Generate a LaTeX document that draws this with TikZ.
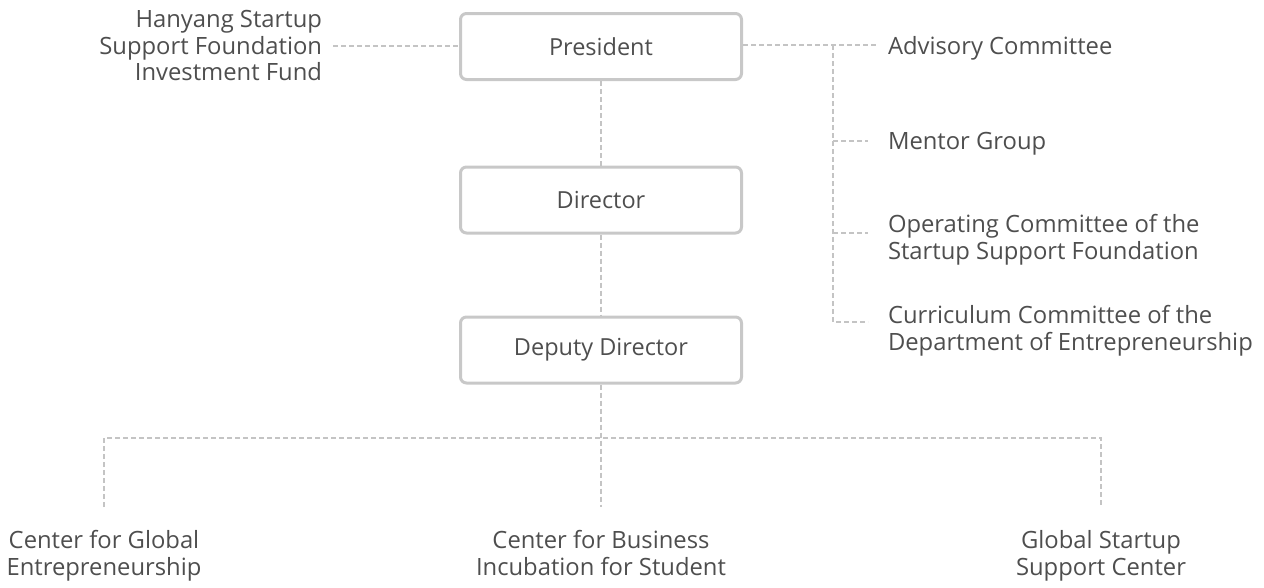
\documentclass[tikz,border=0pt]{standalone}
\usepackage{fontspec}
\setmainfont{Open Sans}
\definecolor{boxgray}{HTML}{C8C8C8}
\definecolor{linegray}{HTML}{C4C4C4}
\definecolor{textgray}{HTML}{4E4E4E}
\begin{document}
\begin{tikzpicture}[x=1pt,y=-1pt,
	office/.style={draw=boxgray,line width=3pt,rounded corners=6pt,minimum width=281pt,minimum height=66pt,text=textgray,font=\fontsize{23.5}{26}\selectfont},
	lbl/.style={text=textgray,font=\fontsize{23.8}{26.5}\selectfont,inner sep=0pt},
	link/.style={draw=linegray,line width=1.2pt,dash pattern=on 5pt off 3pt}]

		\useasboundingbox (0,0) rectangle (1264,587);

		\node[office] (P) at (601, 46.5) {President};
		\node[office] (D) at (601, 200) {Director};
		\node[office] (DD) at (601, 350) {Deputy Director};

		\node[lbl,align=right,anchor=north east,outer xsep=11pt] (fund) at (333, 10.5) {Hanyang Startup\\Support Foundation\\Investment Fund};

		\node[lbl,align=left,anchor=north west,outer xsep=11pt] (adv) at (877, 36) {Advisory Committee};
		\node[lbl,align=left,anchor=north west,outer xsep=20pt] (ment) at (868, 132) {Mentor Group};
		\node[lbl,align=left,anchor=north west,outer xsep=20pt] (oper) at (868, 214.5) {Operating Committee of the\\Startup Support Foundation};
		\node[lbl,align=left,anchor=north west,outer xsep=20pt] (curr) at (868, 305.5) {Curriculum Committee of the\\Department of Entrepreneurship};

		\node[lbl,align=center,anchor=north] (cge) at (104, 530.5) {Center for Global\\Entrepreneurship};
		\node[lbl,align=center,anchor=north] (cbi) at (601, 530.5) {Center for Business\\Incubation for Student};
		\node[lbl,align=center,anchor=north] (gss) at (1101, 530.5) {Global Startup\\Support Center};

		\coordinate (jr) at (833, 45);
		\coordinate (bus) at (601, 438);
		\coordinate (t1) at (104, 507);
		\coordinate (t2) at (601, 507);
		\coordinate (t3) at (1101, 507);

		\draw[link] (fund.east |- 0,46) -- (P.west |- 0,46);
		\draw[link] (P.east |- jr) -- (adv.west |- jr);
		\draw[link] (jr) |- (curr.west |- 0,322);
		\draw[link] (jr |- 0,141) -- (ment.west |- 0,141);
		\draw[link] (jr |- 0,233) -- (oper.west |- 0,233);

		\draw[link] (P.south) -- (D.north);
		\draw[link] (D.south) -- (DD.north);
		\draw[link] (DD.south) -- (t2);
		\draw[link] (t1) |- (bus) -| (t3);

	\end{tikzpicture}
\end{document}
